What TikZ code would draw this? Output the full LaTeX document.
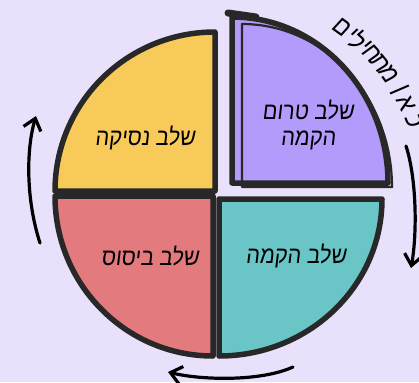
\documentclass[tikz,border=0pt]{standalone}
\usepackage{fontspec}
\usetikzlibrary{arrows.meta}
\TeXXeTstate=1
\newfontfamily\heb[Script=Hebrew,FakeSlant=0.12,FakeStretch=0.9]{Liberation Sans}
\definecolor{bg}{RGB}{233,225,252}
\definecolor{ink}{RGB}{40,40,40}
\definecolor{yel}{RGB}{247,202,89}
\definecolor{sal}{RGB}{226,122,126}
\definecolor{tea}{RGB}{106,197,199}
\definecolor{pur}{RGB}{179,155,251}
\begin{document}
\begin{tikzpicture}[x=1pt,y=-1pt,
  quad/.style={draw=ink,line width=5.5pt,line join=round},
  sketch/.style={draw=ink,line width=2.2pt,line join=round},
  lbl/.style={font=\heb\fontsize{24}{26}\selectfont,text=black,align=center},
  arcl/.style={font=\heb\fontsize{26}{28}\selectfont,text=black,inner sep=0pt},
  cyc/.style={draw=black,line width=3.2pt,line cap=round,-{Straight Barb[length=11pt,width=18pt]}}]
\useasboundingbox (0,0) rectangle (419,382);
\fill[bg] (0,0) rectangle (419,382);
% quadrants
\path[quad,fill=yel] (215,191) -- (55,191) arc[start angle=180,end angle=270,x radius=160,y radius=159] -- cycle;
\path[quad,fill=sal] (213,196) -- (55,196) arc[start angle=180,end angle=90,x radius=158,y radius=160] -- cycle;
\path[quad,fill=tea] (219,199) -- (382,199) arc[start angle=0,end angle=90,x radius=163,y radius=157] -- cycle;
\path[quad,fill=pur] (232,183) -- (232,17) arc[start angle=270,end angle=360,x radius=156,y radius=166] -- cycle;
\path[sketch] (242,187) -- (242,24) arc[start angle=270,end angle=360,x radius=150,y radius=163] -- cycle;
\draw[ink,line width=7pt,line cap=round] (228,13) -- (256,17);
% labels
\node[lbl] (nesika) at (145,138) {\beginR שלב נסיקה\endR};
\node[lbl] (bisus) at (150,256) {\beginR שלב ביסוס\endR};
\node[lbl] (hakama) at (296,256) {\beginR שלב הקמה\endR};
\node[lbl] (trom) at (308,125) {\beginR שלב טרום\endR\\\beginR הקמה\endR};
% curved text "כאן מתחילים", one letter at a time along the arc
\coordinate (O) at (222,193);
\foreach \ch/\a [count=\i] in {ם/54.4, י/50.9, ל/48.3, י/45.8, ח/43.0, ת/39.6, מ/35.6, ן/30.2, א/26.3, כ/20.8}
  \path (O) ++(-\a:205) node[arcl,rotate=\a-90] (t\i) {\ch};
% cycle arrows
\coordinate (la) at (40,243);
\coordinate (lb) at (36,116);
\coordinate (ra) at (406,146);
\coordinate (rb) at (411,268);
\coordinate (ba) at (293,367);
\coordinate (bb) at (168,372);
\draw[cyc] (la) .. controls (26,200) and (26,150) .. (lb);
\draw[cyc] (ra) .. controls (417,180) and (417,235) .. (rb);
\draw[cyc] (ba) .. controls (260,382) and (200,380) .. (bb);
\end{tikzpicture}
\end{document}
